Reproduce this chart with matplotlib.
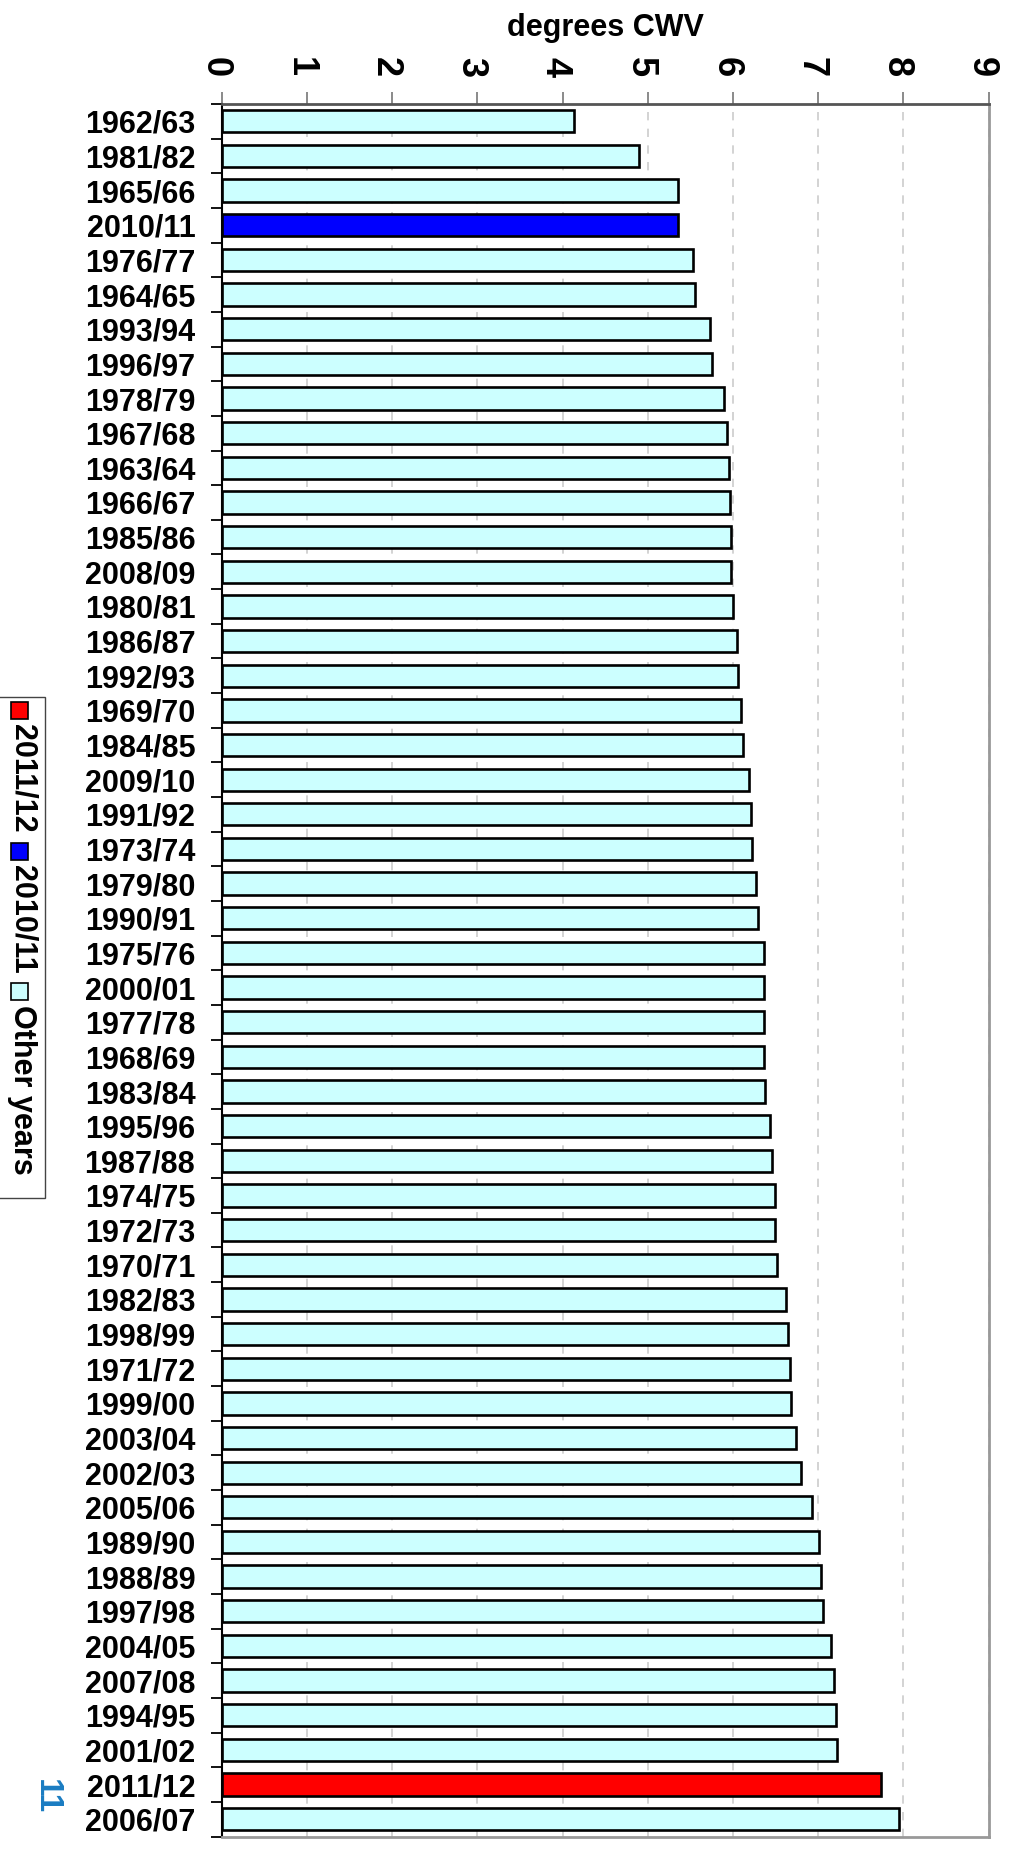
import matplotlib
matplotlib.use("Agg")
import matplotlib.pyplot as plt
from matplotlib.patches import Rectangle
from matplotlib.transforms import ScaledTranslation

plt.rcParams['font.family'] = ['Liberation Sans', 'DejaVu Sans']

seasons = ["1962/63", "1981/82", "1965/66", "2010/11", "1976/77", "1964/65", "1993/94",
           "1996/97", "1978/79", "1967/68", "1963/64", "1966/67", "1985/86", "2008/09",
           "1980/81", "1986/87", "1992/93", "1969/70", "1984/85", "2009/10", "1991/92",
           "1973/74", "1979/80", "1990/91", "1975/76", "2000/01", "1977/78", "1968/69",
           "1983/84", "1995/96", "1987/88", "1974/75", "1972/73", "1970/71", "1982/83",
           "1998/99", "1971/72", "1999/00", "2003/04", "2002/03", "2005/06", "1989/90",
           "1988/89", "1997/98", "2004/05", "2007/08", "1994/95", "2001/02", "2011/12",
           "2006/07"]
cwv = [4.14, 4.90, 5.35, 5.35, 5.53, 5.55, 5.73, 5.75, 5.90, 5.93,
       5.96, 5.97, 5.98, 5.98, 6.00, 6.05, 6.06, 6.10, 6.12, 6.19,
       6.21, 6.22, 6.27, 6.29, 6.36, 6.37, 6.37, 6.37, 6.38, 6.44,
       6.46, 6.49, 6.49, 6.52, 6.62, 6.65, 6.67, 6.68, 6.74, 6.80,
       6.93, 7.01, 7.03, 7.06, 7.15, 7.19, 7.21, 7.22, 7.74, 7.95]
x_ticks = list(range(0, 10))
legend_labels = ["2011/12", "2010/11", "Other years"]
legend_colors = ["#FF0000", "#0000FF", "#CCFFFF"]
highlight = {"2011/12": "#FF0000", "2010/11": "#0000FF"}
other_color = "#CCFFFF"
title = "degrees CWV"
page_no = "11"

W, H = 1010, 1853
fig = plt.figure(figsize=(W / 100, H / 100), dpi=100)

def fx(x):
    return x / W

def fy(y):
    return 1 - y / H

ax_l, ax_r, ax_t, ax_b = 221.7, 988.5, 104.0, 1836.5
ax = fig.add_axes([fx(ax_l), fy(ax_b), fx(ax_r - ax_l), (ax_b - ax_t) / H])

ypos = list(range(len(seasons)))
colors = [highlight.get(s, other_color) for s in seasons]
ax.barh(ypos, cwv, height=0.645, color=colors, edgecolor='black', linewidth=1.9, zorder=3)

ax.set_xlim(0, 9)
ax.set_ylim(len(seasons) - 0.5, -0.5)

# x axis on top; labels drawn as rotated texts
ax.xaxis.tick_top()
ax.set_xticks(x_ticks)
ax.set_xticklabels([])
ax.tick_params(axis='x', which='major', direction='out', length=9, width=1.2,
               color='#777777')
lab_tr = ax.get_xaxis_transform() + ScaledTranslation(-0.07, 0.27, fig.dpi_scale_trans)
for t in x_ticks:
    ax.text(t, 1.0, str(t), transform=lab_tr, rotation=-90, ha='center', va='bottom',
            fontsize=26, fontweight='bold', clip_on=False)

# y axis
ax.set_yticks(ypos)
ax.set_yticklabels(seasons, fontsize=22, fontweight='bold')
ax.tick_params(axis='y', which='major', length=0, pad=19)
ax.set_yticks([p + 0.5 for p in [-1] + ypos], minor=True)
ax.tick_params(axis='y', which='minor', direction='out', length=8, width=1.3, color='black')

ax.grid(axis='x', linestyle=(0, (5, 5)), color='#cccccc', linewidth=1.2, zorder=0)
ax.set_axisbelow(True)

ax.spines['left'].set_color('black')
ax.spines['left'].set_linewidth(1.5)
ax.spines['top'].set_color('#555555')
ax.spines['top'].set_linewidth(2.0)
ax.spines['right'].set_color('#999999')
ax.spines['right'].set_linewidth(2.0)
ax.spines['bottom'].set_color('#999999')
ax.spines['bottom'].set_linewidth(2.0)

# title
fig.text(fx((ax_l + ax_r) / 2), fy(28), title, ha='center', va='center',
         fontsize=22, fontweight='bold')

# legend (rotated, drawn manually, laid out from the top of the box)
box_top, box_bot = 697, 1198
fig.patches.append(Rectangle((fx(-5), fy(box_bot)), fx(50), (box_bot - box_top) / H,
                             transform=fig.transFigure, facecolor='white',
                             edgecolor='#444444', linewidth=1.0, zorder=1))
renderer = fig.canvas.get_renderer()
cur = box_top + 5
sq = 17
for lab, col in zip(legend_labels, legend_colors):
    fig.patches.append(Rectangle((fx(11), fy(cur + sq)), fx(sq), sq / H,
                                 transform=fig.transFigure, facecolor=col,
                                 edgecolor='black', linewidth=1.2, zorder=2))
    cur += sq + 5
    t = fig.text(fx(22), fy(cur), lab, rotation=-90, ha='center', va='top',
                 fontsize=22, fontweight='bold', zorder=3)
    ext = t.get_window_extent(renderer)
    cur += ext.height + 10

# page number
fig.text(fx(46), fy(1797), page_no, rotation=-90, ha='center', va='center',
         fontsize=24, fontweight='bold', color='#1a7cc2')

fig.savefig("out.png", dpi=100)
